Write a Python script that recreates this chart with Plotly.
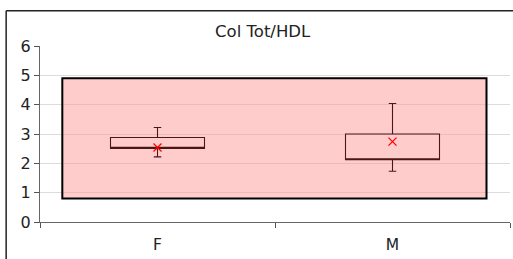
import plotly.graph_objects as go

categories = ["F", "M"]
q1 = [2.51, 2.12]
median = [2.51, 2.12]
q3 = [2.88, 3.00]
lower = [2.22, 1.73]
upper = [3.22, 4.04]
means = [2.54, 2.74]
band_low = 0.8
band_high = 4.9
y_ticks = [0, 1, 2, 3, 4, 5, 6]

FONT = "DejaVu Sans"

fig = go.Figure()
fig.add_trace(go.Box(
    x=categories, q1=q1, median=median, q3=q3,
    lowerfence=lower, upperfence=upper,
    width=0.4, whiskerwidth=0.08,
    fillcolor="rgba(0,0,0,0)",
    line=dict(color="#4a1616", width=1.1),
    boxpoints=False, showlegend=False, hoverinfo="skip",
))
fig.add_trace(go.Scatter(
    x=categories, y=means, mode="markers",
    marker=dict(symbol="x-thin", size=8, line=dict(color="#ff0000", width=1.3)),
    showlegend=False, hoverinfo="skip",
))

# pink reference band (semi-transparent so gridlines show through)
fig.add_shape(type="rect", xref="x", yref="y", x0=-0.405, x1=1.4,
              y0=band_low, y1=band_high, layer="between",
              fillcolor="rgba(255,148,148,0.48)", line=dict(color="#000000", width=2))
# outer chart border (left and top edges visible)
fig.add_shape(type="line", xref="paper", yref="paper",
              x0=-0.072, x1=-0.072, y0=-0.3, y1=1.2,
              line=dict(color="#222222", width=1.5))
fig.add_shape(type="line", xref="paper", yref="paper",
              x0=-0.072, x1=1.01, y0=1.2, y1=1.2,
              line=dict(color="#222222", width=1.5))

fig.update_layout(
    width=513, height=259,
    margin=dict(l=40, r=3, t=46, b=37),
    paper_bgcolor="white", plot_bgcolor="white",
    font=dict(family=FONT, size=13, color="#222222"),
    title=dict(text="Col Tot/HDL", x=0.512, xanchor="center", y=0.878, yanchor="middle",
               font=dict(family=FONT, size=16.5, color="#222222")),
)
fig.update_xaxes(
    type="category", range=[-0.5, 1.5], tickson="boundaries",
    ticks="outside", ticklen=5, tickcolor="#555555",
    showline=True, linecolor="#666666", linewidth=1,
    showgrid=False, tickfont=dict(size=15.5), ticklabelstandoff=8,
)
fig.update_yaxes(
    range=[0, 6], tickvals=y_ticks, ticks="outside", ticklen=5, tickcolor="#555555",
    showline=True, linecolor="#666666", linewidth=1,
    showgrid=True, gridcolor="#dcdcdc", gridwidth=1, zeroline=False,
    tickfont=dict(size=16),
)

fig.write_html("out.html", config={"displayModeBar": False},
               post_script="document.body.style.margin='0px';document.body.style.overflow='hidden';")
